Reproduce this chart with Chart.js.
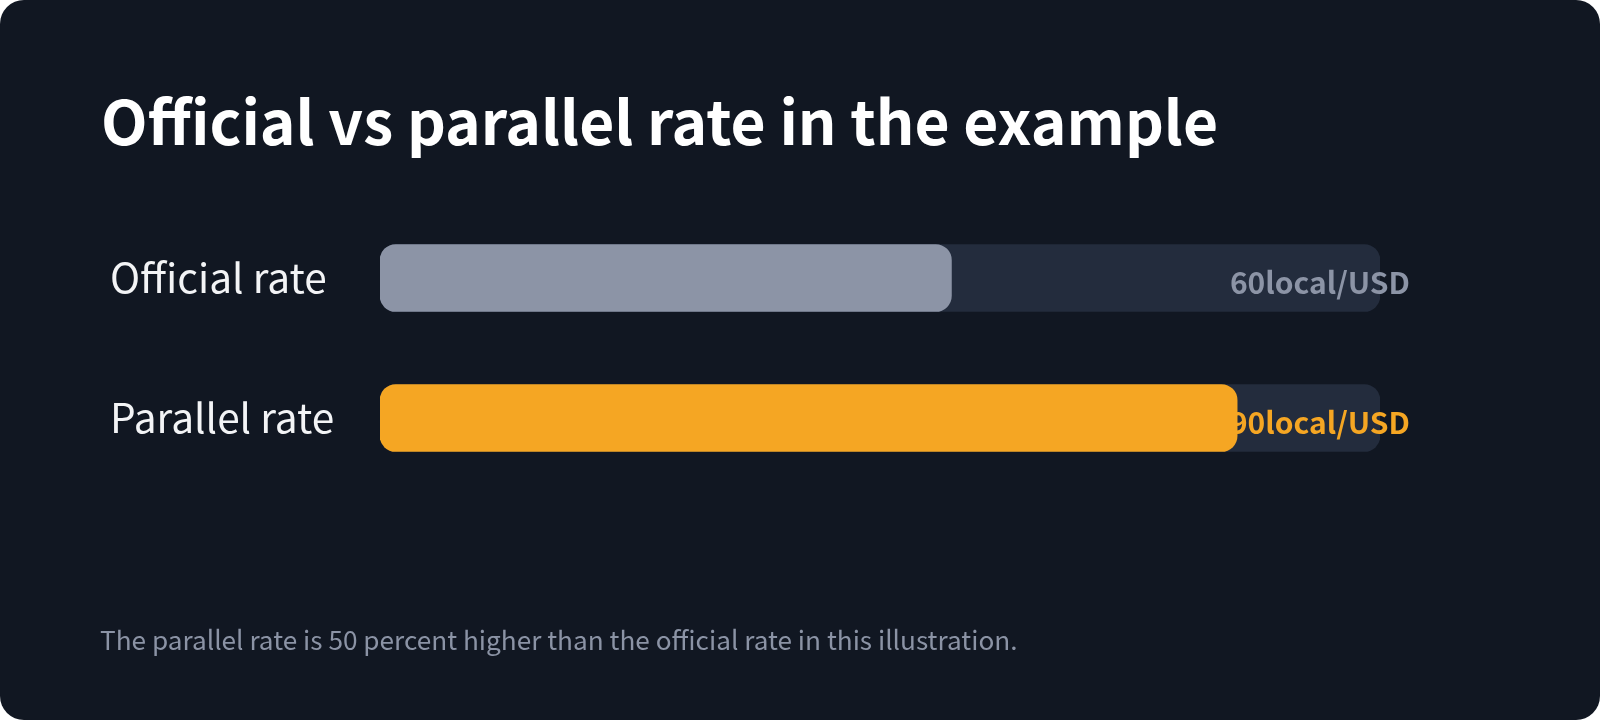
<!DOCTYPE html>
<html>
<head>
<meta charset="utf-8">
<title>Official vs parallel rate</title>
<script src="https://cdn.jsdelivr.net/npm/chart.js@4/dist/chart.umd.min.js"></script>
<style>
  html, body { margin: 0; padding: 0; background: #ffffff; }
  .card {
    position: relative;
    width: 1600px;
    height: 720px;
    background: #111722;
    border-radius: 24px;
    overflow: hidden;
  }
  canvas { display: block; }
</style>
</head>
<body>
<div class="card">
  <canvas id="rate-chart" width="1600" height="720"></canvas>
</div>
<script>
// chart data
const categories = ['Official rate', 'Parallel rate'];
const rates = [60, 90];
const unit = 'local/USD';
const axisMax = 105;
const titleText = 'Official vs parallel rate in the example';
const noteText = 'The parallel rate is 50 percent higher than the official rate in this illustration.';

const FONT = '"Noto Sans CJK SC", "Noto Sans", sans-serif';
const barColors = ['#8c94a6', '#f5a623'];
const trackColor = '#232c3d';

// title + footnote drawn straight on the canvas
const textPlugin = {
    id: 'cardText',
    afterDraw(chart) {
        const ctx = chart.ctx;
        ctx.save();
        ctx.textAlign = 'left';
        ctx.textBaseline = 'alphabetic';
        ctx.fillStyle = '#ffffff';
        ctx.font = `bold 60.5px ${FONT}`;
        ctx.fillText(titleText, 101, 145);
        ctx.fillStyle = '#8b93a5';
        ctx.font = `26.2px ${FONT}`;
        ctx.fillText(noteText, 100, 650);
        ctx.restore();
    }
};

// value labels, drawn after the track but before the coloured bars
const valueLabels = {
    id: 'valueLabels',
    afterDatasetDraw(chart, args) {
        if (args.index !== 1) return;
        const ctx = chart.ctx;
        const meta = chart.getDatasetMeta(0);
        ctx.save();
        ctx.font = `bold 30px ${FONT}`;
        ctx.textAlign = 'right';
        ctx.textBaseline = 'middle';
        meta.data.forEach((bar, i) => {
            ctx.fillStyle = barColors[i];
            ctx.fillText(rates[i] + unit, chart.chartArea.right + 30, bar.y + 5);
        });
        ctx.restore();
    }
};

const ctx = document.getElementById('rate-chart').getContext('2d');
new Chart(ctx, {
    type: 'bar',
    data: {
        labels: categories,
        datasets: [
            {
                data: rates,
                backgroundColor: barColors,
                borderRadius: 16,
                borderSkipped: false,
                barThickness: 67,
                grouped: false
            },
            {
                data: categories.map(() => axisMax),
                backgroundColor: trackColor,
                borderRadius: 16,
                borderSkipped: false,
                barThickness: 67,
                grouped: false
            }
        ]
    },
    options: {
        indexAxis: 'y',
        responsive: false,
        devicePixelRatio: 1,
        animation: false,
        layout: { padding: { left: 110, right: 220, top: 208, bottom: 232 } },
        scales: {
            x: { min: 0, max: axisMax, display: false },
            y: {
                grid: { display: false },
                border: { display: false },
                ticks: {
                    color: '#f3f4f6',
                    font: { family: FONT, size: 40.6 },
                    crossAlign: 'far',
                    padding: 0
                },
                afterFit(scale) { scale.width = 270; }
            }
        },
        plugins: {
            legend: { display: false },
            tooltip: { enabled: false },
            title: { display: false }
        }
    },
    plugins: [valueLabels, textPlugin]
});
</script>
</body>
</html>
